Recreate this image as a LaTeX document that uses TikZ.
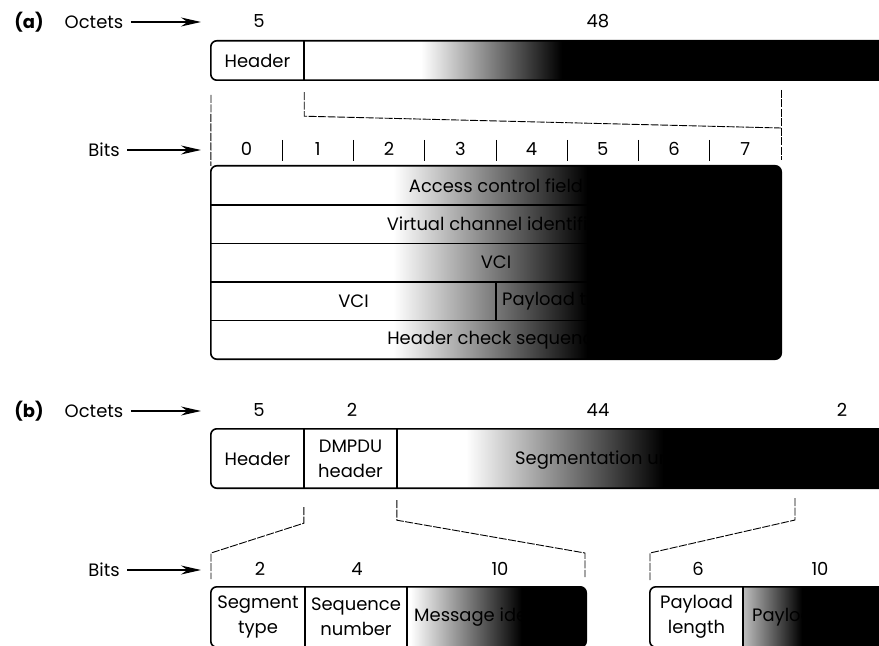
\documentclass[tikz,border=0pt]{standalone}
\usepackage{fontspec}
\setmainfont{Poppins}
\usepackage{tikz}
\usetikzlibrary{positioning,calc,arrows.meta,backgrounds}

% white-to-black fades of the user fields
\pgfdeclarehorizontalshading{fadeTop}{100bp}{color(0bp)=(white); color(35bp)=(white); color(47bp)=(black); color(100bp)=(black)}
\pgfdeclarehorizontalshading{fadeBox}{100bp}{color(0bp)=(white); color(41bp)=(white); color(58bp)=(black); color(100bp)=(black)}
\pgfdeclarehorizontalshading{fadeSeg}{100bp}{color(0bp)=(white); color(32bp)=(white); color(52bp)=(black); color(100bp)=(black)}
\pgfdeclarehorizontalshading{fadeMsg}{100bp}{color(0bp)=(white); color(26bp)=(white); color(57bp)=(black); color(100bp)=(black)}
\pgfdeclarehorizontalshading{fadeCrc}{100bp}{color(0bp)=(white); color(25bp)=(black!25); color(45bp)=(black); color(100bp)=(black)}

\begin{document}
\begin{tikzpicture}[x=1bp, y=-1bp, font=\fontsize{18}{25}\selectfont,
    box/.style={line width=1.6bp, rounded corners=6bp},
    cell/.style={inner sep=0pt, align=center},
    guide/.style={line width=0.9bp, dash pattern=on 8bp off 1.5bp},
    feed/.style={line width=1.3bp, -{Stealth[length=20bp,width=9bp]}}]
  \useasboundingbox (0,0) rectangle (879,646);

  % (a) slot: octet counts
  \node (tagA) at (29,22) {\bfseries (a)};
  \node (octA) at (94,22) {Octets};
  \coordinate (octAend) at (201,22);
  \draw[feed] ([xshift=4bp]octA.east) -- (octAend);
  \node (nA1) at (259,21) {5};
  \node (nA2) at (598,21) {48};

  % (a) header + payload bar
  \node[cell, minimum width=93bp, minimum height=39bp] (hdrA) at (257.5,60.5) {Header};
  \node[cell, minimum width=586bp, minimum height=39bp] (payA) at (597,60.5) {};
  \begin{scope}[on background layer]
    \shade[shading=fadeTop] (payA.north west) rectangle (payA.south east);
  \end{scope}
  \draw[box] (payA.north east) -- (hdrA.north west) -- (hdrA.south west) -- (payA.south east);
  \draw[line width=1.6bp] (hdrA.north east) -- (hdrA.south east);

  % (a) bit positions
  \node (bitsA) at (104,150) {Bits};
  \coordinate (bitsAend) at (201,150);
  \draw[feed] ([xshift=4bp]bitsA.east) -- (bitsAend);
  \foreach \b in {0,...,7}
    \node (bitA\b) at ({246.6+71.25*\b},149) {\b};
  \foreach \b in {1,...,7}
    \draw[line width=0.9bp] ({211+71.25*\b},140) -- ({211+71.25*\b},161);

  % (a) header octets
  \node[cell, minimum width=570bp, minimum height=38.6bp] (acf) at (496,185.3) {Access control field};
  \node[cell, minimum width=570bp, minimum height=38.6bp] (vpi) at (496,223.9) {Virtual channel identifier};
  \node[cell, minimum width=570bp, minimum height=38.6bp] (vci) at (496,262.5) {VCI};
  \node[cell, minimum width=285bp, minimum height=38.6bp] (vciB) at (353.5,301.1) {VCI};
  \node[cell, minimum width=285bp, minimum height=38.6bp] (ptype) at (638.5,301.1) {};
  \node[anchor=west, inner sep=0pt] (ptypeT) at (502,301) {Payload type};
  \node[cell, minimum width=570bp, minimum height=38.6bp] (hcs) at (496,339.7) {Header check sequence};
  \begin{scope}[on background layer]
    \shade[shading=fadeBox, rounded corners=6bp] (acf.north west) rectangle (hcs.south east);
  \end{scope}
  \draw[box] (acf.north west) rectangle (hcs.south east);
  \foreach \r in {acf,vpi,vci}
    \draw[line width=1.6bp] (\r.south west) -- (\r.south east);
  \draw[line width=1.6bp] (vciB.south west) -- (ptype.south east);
  \draw[line width=1.6bp] (vciB.north east) -- (vciB.south east);

  % (a) guides
  \coordinate (gAl) at (211,95);
  \coordinate (gAr) at (781,90);
  \coordinate (gArb) at (781,160);
  \coordinate (gAk) at (781,128);
  \draw[guide] (gAl) -- (acf.north west);
  \draw[guide] (gAr) -- (gArb);
  \draw[guide] ($(hdrA.south east)+(0,12)$) -- ++(0,24) -- (gAk);

  % (b) segment: octet counts
  \node (tagB) at (29,411) {\bfseries (b)};
  \node (octB) at (94,411) {Octets};
  \coordinate (octBend) at (201,411);
  \draw[feed] ([xshift=4bp]octB.east) -- (octBend);
  \node (nB1) at (259,410) {5};
  \node (nB2) at (352,410) {2};
  \node (nB3) at (598,410) {44};
  \node (nB4) at (842,410) {2};

  % (b) header, DMPDU header, segmentation unit
  \node[cell, minimum width=93bp, minimum height=59bp] (hdrB) at (257.5,458.5) {Header};
  \node[cell, minimum width=93bp, minimum height=59bp] (dmB) at (350.5,458.5) {DMPDU\\header};
  \node[cell, minimum width=493bp, minimum height=59bp] (segB) at (643.5,458.5) {};
  \node[anchor=west, inner sep=0pt] (segT) at (515,460) {Segmentation unit};
  \begin{scope}[on background layer]
    \shade[shading=fadeSeg] (segB.north west) rectangle (segB.south east);
  \end{scope}
  \draw[box] (segB.north east) -- (hdrB.north west) -- (hdrB.south west) -- (segB.south east);
  \draw[line width=1.6bp] (hdrB.north east) -- (hdrB.south east);
  \draw[line width=1.6bp] (dmB.north east) -- (dmB.south east);

  % (b) bit counts
  \node (bitsB) at (104,570) {Bits};
  \coordinate (bitsBend) at (201,570);
  \draw[feed] ([xshift=4bp]bitsB.east) -- (bitsBend);
  \node (mB1) at (260,569) {2};
  \node (mB2) at (357,569) {4};
  \node (mB3) at (500,569) {10};
  \node (mB4) at (698,569) {6};
  \node (mB5) at (820,569) {10};

  % (b) DMPDU header fields
  \node[cell, minimum width=94bp, minimum height=60bp] (segTy) at (258,617) {Segment\\type};
  \node[cell, minimum width=102bp, minimum height=60bp] (seqN) at (356,617) {Sequence\\number};
  \node[cell, minimum width=179bp, minimum height=60bp] (msgId) at (496.5,617) {};
  \begin{scope}[on background layer]
    \shade[shading=fadeMsg, rounded corners=6bp] (msgId.north west) rectangle (msgId.south east);
  \end{scope}
  \begin{scope}
    \clip (msgId.north west) rectangle (msgId.south east);
    \node[anchor=west, inner sep=0pt] (msgT) at (414,617) {Message identifier};
  \end{scope}
  \draw[box] (segTy.north west) rectangle (msgId.south east);
  \draw[line width=1.6bp] (segTy.north east) -- (segTy.south east);
  \draw[line width=1.6bp] (seqN.north east) -- (seqN.south east);

  % (b) trailer fields
  \node[cell, minimum width=93bp, minimum height=60bp] (plLen) at (696.5,617) {Payload\\length};
  \node[cell, minimum width=147bp, minimum height=60bp] (plCrc) at (816.5,617) {};
  \node[anchor=west, inner sep=0pt] (crcT) at (752,617) {Payload CRC};
  \begin{scope}[on background layer]
    \shade[shading=fadeCrc] (plCrc.north west) rectangle (plCrc.south east);
  \end{scope}
  \draw[box] (plCrc.north east) -- (plLen.north west) -- (plLen.south west) -- (plCrc.south east);
  \draw[line width=1.6bp] (plLen.north east) -- (plLen.south east);

  % (b) guides
  \coordinate (kL) at (211,553);
  \coordinate (eL) at (211,579);
  \coordinate (kM) at (585,553);
  \coordinate (eM) at (585,577);
  \coordinate (sR) at (795,498);
  \coordinate (kR) at (650,553);
  \coordinate (eR) at (650,580);
  \draw[guide] ($(dmB.south west)+(0,19)$) -- ++(0,16) -- (kL) -- (eL);
  \draw[guide] ($(segB.south west)+(0,12)$) -- ++(0,20) -- (kM) -- (eM);
  \draw[guide] (sR) -- ++(0,22) -- (kR) -- (eR);
\end{tikzpicture}
\end{document}
